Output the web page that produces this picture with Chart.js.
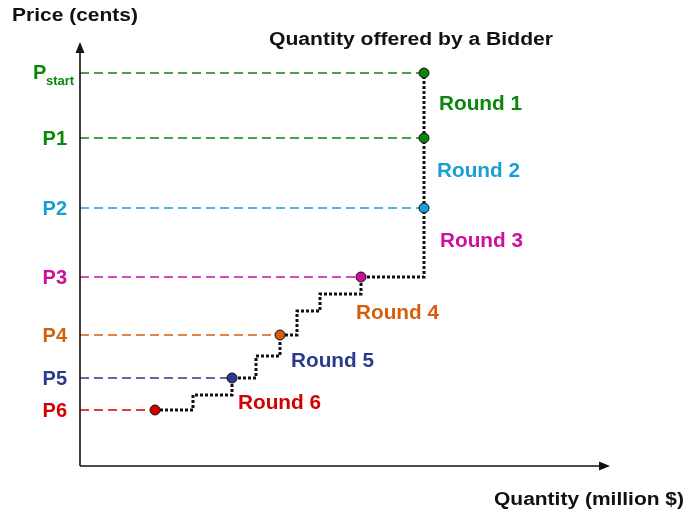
<!DOCTYPE html>
<html>
<head>
<meta charset="utf-8">
<script src="https://cdn.jsdelivr.net/npm/chart.js@4/dist/chart.umd.min.js"></script>
<style>
  html, body { margin: 0; background: #fff; }
  canvas { display: block; }
</style>
</head>
<body>
<canvas id="chart" width="686" height="512"></canvas>
<script>
// price levels announced each round, and what the bidder offers at each
const priceLabels = ['Pstart', 'P1', 'P2', 'P3', 'P4', 'P5', 'P6'];
const priceLevels = [393, 328, 258, 189, 131, 88, 56];
const bidQuantity = [344, 344, 344, 281, 200, 152, 75];
const priceColors = ['#0a870a', '#0a870a', '#1a9fd4', '#cc0f9e', '#d4600f', '#2b3a8c', '#d40000'];

const roundLabels = ['Round 1', 'Round 2', 'Round 3', 'Round 4', 'Round 5', 'Round 6'];

// the bidder's supply curve, traced step by step from P6 up to Pstart
const stepQuantity = [75, 113, 113, 152, 152, 176, 176, 200, 200, 217, 217, 240, 240, 281, 281, 344, 344];
const stepPrice    = [56, 56, 71, 71, 88, 88, 110, 110, 131, 131, 155, 155, 172, 172, 189, 189, 393];

const FONT = '"Liberation Sans", Arial, sans-serif';

const guideSets = priceLevels.map((p, i) => ({
    data: [{ x: 0, y: p }, { x: bidQuantity[i], y: p }],
    showLine: true,
    borderColor: priceColors[i],
    borderWidth: 1.3,
    borderDash: [9, 5],
    pointRadius: 0,
    order: 2
}));

const stepSet = {
    data: stepQuantity.map((q, i) => ({ x: q, y: stepPrice[i] })),
    showLine: true,
    borderColor: '#111',
    borderWidth: 3,
    borderDash: [3, 2],
    pointRadius: 0,
    order: 1
};

const pointSet = {
    data: priceLevels.map((p, i) => ({ x: bidQuantity[i], y: p })),
    showLine: false,
    pointRadius: 5,
    pointBackgroundColor: priceColors,
    pointBorderColor: '#111',
    pointBorderWidth: 1,
    order: 0
};

// the black captions in the original are set wide, so stretch them to span
function wideText(ctx, text, x, y, width) {
    const w = ctx.measureText(text).width;
    ctx.save();
    ctx.translate(x, y);
    ctx.scale(width / w, 1);
    ctx.textAlign = 'left';
    ctx.fillText(text, 0, 0);
    ctx.restore();
}

// axes with arrows plus all the text annotations
const decorations = {
    id: 'decorations',
    afterDatasetsDraw(chart) {
        const { ctx, chartArea, scales } = chart;
        const xs = scales.x, ys = scales.y;
        const ox = chartArea.left, oy = chartArea.bottom;

        ctx.save();
        ctx.strokeStyle = '#111';
        ctx.fillStyle = '#111';
        ctx.lineWidth = 1.6;
        ctx.beginPath();
        ctx.moveTo(ox, oy);
        ctx.lineTo(ox, chartArea.top + 8);
        ctx.moveTo(ox, oy);
        ctx.lineTo(chartArea.right - 8, oy);
        ctx.stroke();

        ctx.beginPath();
        ctx.moveTo(ox, chartArea.top);
        ctx.lineTo(ox - 4.5, chartArea.top + 11);
        ctx.lineTo(ox + 4.5, chartArea.top + 11);
        ctx.closePath();
        ctx.moveTo(chartArea.right, oy);
        ctx.lineTo(chartArea.right - 11, oy - 4.5);
        ctx.lineTo(chartArea.right - 11, oy + 4.5);
        ctx.closePath();
        ctx.fill();

        // axis titles and chart title
        ctx.font = 'bold 18px ' + FONT;
        ctx.textBaseline = 'alphabetic';
        wideText(ctx, 'Price (cents)', 12, 21, 126);
        wideText(ctx, 'Quantity offered by a Bidder', 269, 45, 284);
        wideText(ctx, 'Quantity (million $)', 494, 505, 190);

        // price labels on the left
        ctx.textBaseline = 'middle';
        priceLabels.forEach((lbl, i) => {
            const y = ys.getPixelForValue(priceLevels[i]);
            ctx.fillStyle = priceColors[i];
            if (lbl === 'Pstart') {
                ctx.textAlign = 'left';
                ctx.font = 'bold 20px ' + FONT;
                ctx.fillText('P', 33, y);
                ctx.font = 'bold 13px ' + FONT;
                ctx.fillText('start', 46, y + 8);
            } else {
                ctx.textAlign = 'right';
                ctx.font = 'bold 20px ' + FONT;
                ctx.fillText(lbl, 67, y + 1);
            }
        });

        // round labels sit between consecutive price levels
        const offsets = [[15, -1], [13, -2], [16, -1], [-5, 7], [11, 5], [6, 9]];
        ctx.font = 'bold 20px ' + FONT;
        roundLabels.forEach((lbl, k) => {
            const yPrev = ys.getPixelForValue(priceLevels[k]);
            const yCur = ys.getPixelForValue(priceLevels[k + 1]);
            const x = xs.getPixelForValue(bidQuantity[k]);
            ctx.fillStyle = priceColors[k + 1];
            wideText(ctx, lbl, x + offsets[k][0], (yPrev + yCur) / 2 + offsets[k][1], 83);
        });
        ctx.restore();
    }
};

new Chart(document.getElementById('chart').getContext('2d'), {
    type: 'scatter',
    data: { datasets: [pointSet, stepSet, ...guideSets] },
    options: {
        responsive: false,
        animation: false,
        clip: false,
        layout: { padding: { left: 80, right: 76, top: 42, bottom: 46 } },
        scales: {
            x: { type: 'linear', min: 0, max: 530, display: false },
            y: { type: 'linear', min: 0, max: 424, display: false }
        },
        plugins: {
            legend: { display: false },
            tooltip: { enabled: false }
        }
    },
    plugins: [decorations]
});
</script>
</body>
</html>
